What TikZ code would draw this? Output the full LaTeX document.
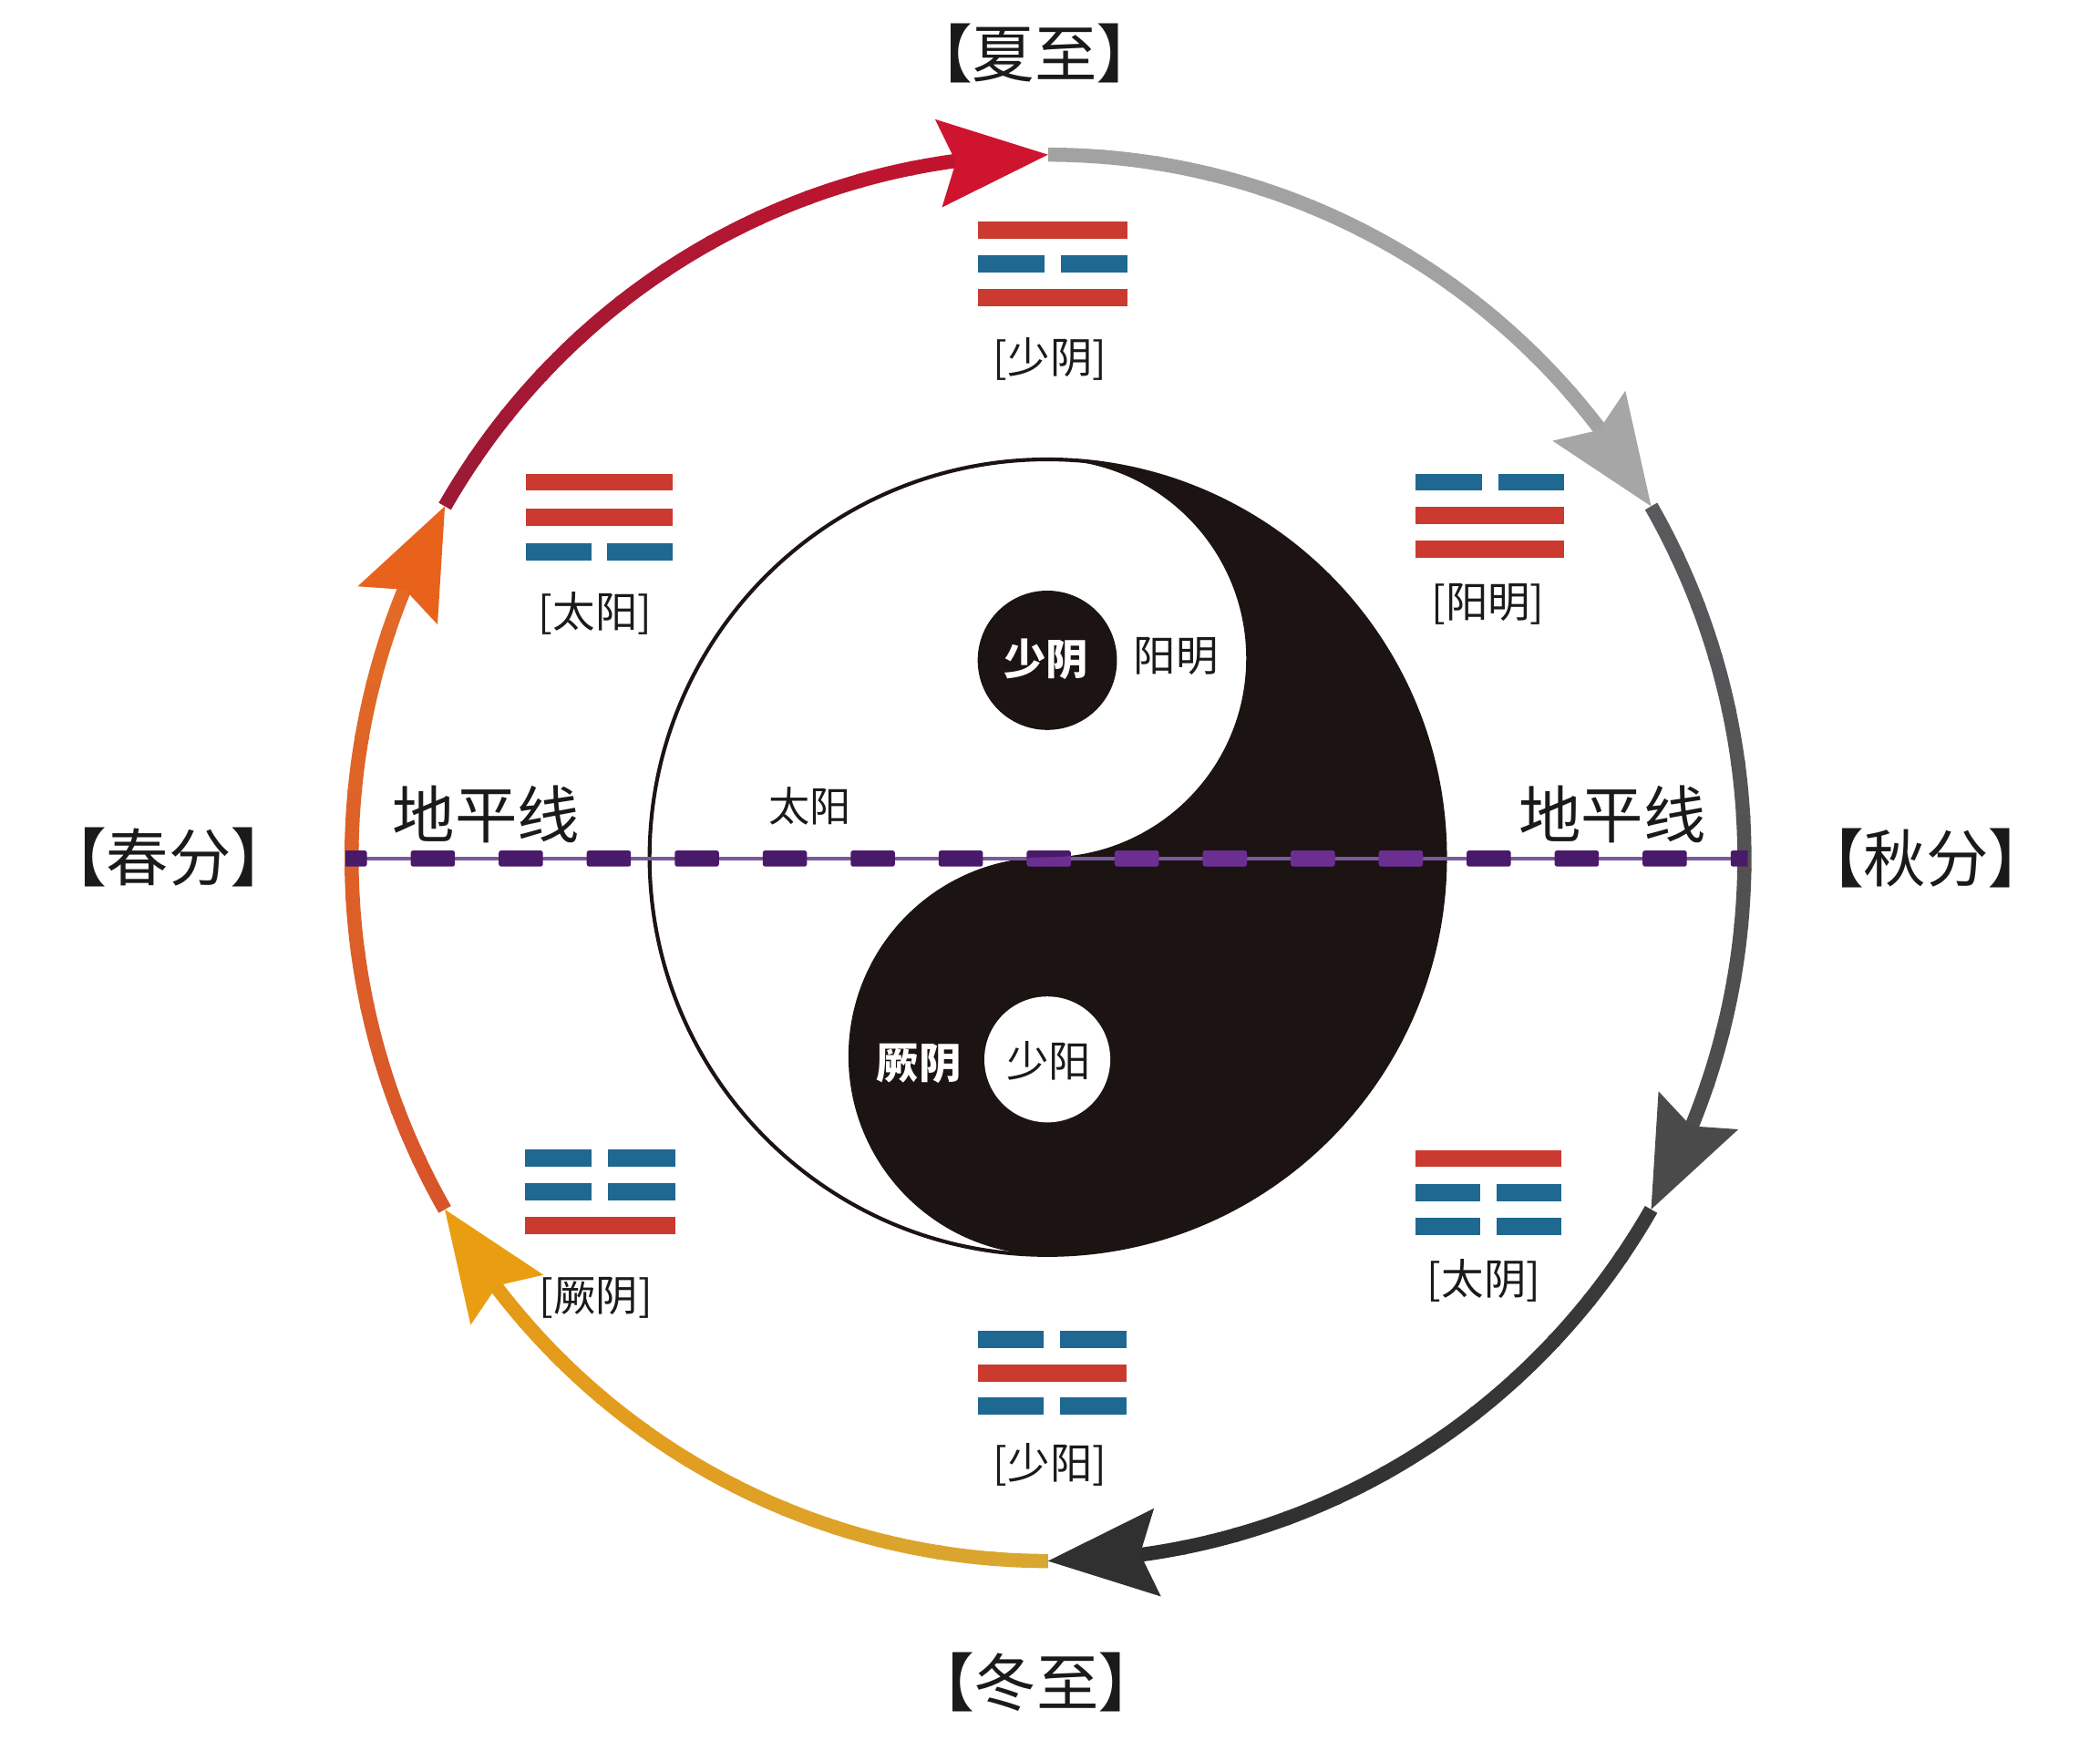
\documentclass[tikz,border=0pt]{standalone}
\usepackage{fontspec}
\newfontfamily\cjk{Noto Sans CJK SC}
\usetikzlibrary{calc}
\definecolor{trired}{HTML}{CB3A2E}
\definecolor{triblue}{HTML}{1E6891}
\definecolor{yyblack}{HTML}{1C1313}
\definecolor{hzdark}{HTML}{4A1A6A}
\definecolor{hzlight}{HTML}{6B2F92}
\definecolor{hzthin}{HTML}{7A5A9C}
\definecolor{redA}{HTML}{9C1A36}
\definecolor{redB}{HTML}{C0142E}
\definecolor{redHead}{HTML}{CF1430}
\definecolor{grayA}{HTML}{A2A2A2}
\definecolor{grayHead}{HTML}{A6A6A6}
\definecolor{dgrayA}{HTML}{5A5A5C}
\definecolor{dgrayB}{HTML}{4C4C4C}
\definecolor{dgrayHead}{HTML}{4A4A4A}
\definecolor{blkA}{HTML}{3A3A3A}
\definecolor{blkB}{HTML}{2E2E2E}
\definecolor{blkHead}{HTML}{303030}
\definecolor{yelA}{HTML}{D9A630}
\definecolor{yelB}{HTML}{E59A18}
\definecolor{yelHead}{HTML}{E89E10}
\definecolor{orgA}{HTML}{D8552A}
\definecolor{orgB}{HTML}{E26A26}
\definecolor{orgHead}{HTML}{E8621C}
\definecolor{txt}{HTML}{1A1A1A}

\tikzset{
  ringline/.style={line width=6pt, line cap=butt},
  season/.style={font=\cjk\fontsize{26.5}{30}\selectfont, inner sep=0pt, text=txt},
  tlabel/.style={font=\cjk\fontsize{18}{22}\selectfont, inner sep=0pt, text=txt},
  innertxt/.style={font=\cjk\fontsize{18}{22}\selectfont, inner sep=0pt, text=txt},
  innerwhite/.style={font=\cjk\bfseries\fontsize{18}{22}\selectfont, inner sep=0pt, text=white},
}

\newcommand\ringseg[3]{%
  \foreach \k in {0,...,11}{%
    \pgfmathsetmacro\ringa{#1-\k*53/12}%
    \pgfmathsetmacro\ringb{#1-(\k+1)*53/12-0.3}%
    \pgfmathsetmacro\ringp{100*\k/11}%
    \draw[ringline, color=#3!\ringp!#2, shift={(C)}] (\ringa:520 and 525) arc[start angle=\ringa, end angle=\ringb, x radius=520, y radius=525];
  }%
}
\newcommand\ringhead[3]{%
  \fill[#3, shift={(#1)}, rotate={#2-85.5}] (0,0) -- (-82,33) -- (-69,0) -- (-82,-33) -- cycle;%
}
\newcommand\yao[4]{%
  \ifnum#4=1
    \fill[trired] ({#1},{-#2+6.4}) rectangle ({#1+#3},{-#2-6.4});
  \else
    \fill[triblue] ({#1},{-#2+6.4}) rectangle ({#1+(#3-12)/2},{-#2-6.4});
    \fill[triblue] ({#1+(#3+12)/2},{-#2+6.4}) rectangle ({#1+#3},{-#2-6.4});
  \fi
}
\newcommand\lbr{{\bfseries 【}}
\newcommand\rbr{{\bfseries 】}}

\begin{document}
\begin{tikzpicture}[x=0.2mm, y=0.2mm]
\useasboundingbox (0,0) rectangle (1568,-1307);
\fill[white] (0,0) rectangle (1568,-1307);

\coordinate (C) at (782.5,-640.5);
\coordinate (Y) at (782,-640);

% ---- yin-yang ----
\fill[yyblack] (782,-343) arc[start angle=90, end angle=-90, radius=297]
   arc[start angle=-90, end angle=-270, radius=148.5]
   arc[start angle=-90, end angle=90, radius=148.5] -- cycle;
\draw[line width=1.6pt, yyblack] (Y) circle[radius=297];
\fill[yyblack] (782,-493) circle[radius=52];
\fill[white] (782,-791) circle[radius=47];

% ---- ring ----
\coordinate (p90) at ($(C)+(90:520 and 525)$);
\coordinate (p30) at ($(C)+(30:520 and 525)$);
\coordinate (pm30) at ($(C)+(-30:520 and 525)$);
\coordinate (pm90) at ($(C)+(-90:520 and 525)$);
\coordinate (pm150) at ($(C)+(-150:520 and 525)$);
\coordinate (p150) at ($(C)+(150:520 and 525)$);

\ringseg{150}{redA}{redB}
\ringseg{90}{grayA}{grayA}
\ringseg{30}{dgrayA}{dgrayB}
\ringseg{-30}{blkA}{blkB}
\ringseg{-90}{yelA}{yelB}
\ringseg{-150}{orgA}{orgB}

\ringhead{p90}{90}{redHead}
\ringhead{p30}{30}{grayHead}
\ringhead{pm30}{-30}{dgrayHead}
\ringhead{pm90}{-90}{blkHead}
\ringhead{pm150}{-150}{yelHead}
\ringhead{p150}{150}{orgHead}

% ---- trigrams ----
\yao{730}{172}{112}{1}\yao{730}{197}{112}{0}\yao{730}{222}{112}{1}
\yao{393}{360}{109}{1}\yao{393}{386}{109}{1}\yao{393}{412}{109}{0}
\yao{1057}{360}{111}{0}\yao{1057}{385}{111}{1}\yao{1057}{410}{111}{1}
\yao{392}{864.5}{112}{0}\yao{392}{890}{112}{0}\yao{392}{915}{112}{1}
\yao{1057}{865}{109}{1}\yao{1057}{890.5}{109}{0}\yao{1057}{915.5}{109}{0}
\yao{730}{1000}{111}{0}\yao{730}{1025.5}{111}{1}\yao{730}{1050}{111}{0}

\node[tlabel] (lbTop) at (784,-268) {[少阴]};
\node[tlabel] (lbUL) at (444.5,-458) {[太阳]};
\node[tlabel] (lbUR) at (1111,-451) {[阳明]};
\node[tlabel] (lbLL) at (445,-969) {[厥阴]};
\node[tlabel] (lbLR) at (1108,-956) {[太阴]};
\node[tlabel] (lbBot) at (784,-1093.5) {[少阳]};

% ---- horizon line ----
\coordinate (hzA) at (258,-641);
\coordinate (hzB) at (1305,-641);
\draw[hzthin, line width=1.3pt] (hzA) -- (hzB);
\begin{scope}
  \clip (258,-600) rectangle (1305,-680);
  \foreach \k in {0,...,16} \fill[hzdark, rounded corners=1pt] ({241+65.7*\k},-635) rectangle ++(33,-12);
\end{scope}
\begin{scope}
  \clip (782,-343) arc[start angle=90, end angle=-90, radius=297]
   arc[start angle=-90, end angle=-270, radius=148.5]
   arc[start angle=-90, end angle=90, radius=148.5] -- cycle;
  \foreach \k in {0,...,16} \fill[hzlight, rounded corners=1pt] ({241+65.7*\k},-635) rectangle ++(33,-12);
\end{scope}

% ---- labels ----
\node[season] (xiazhi) at (772.5,-40) {\lbr 夏至\rbr};
\node[season] (chunfen) at (126,-640) {\lbr 春分\rbr};
\node[season] (qiufen) at (1438,-641) {\lbr 秋分\rbr};
\node[season] (dongzhi) at (774,-1256) {\lbr 冬至\rbr};
\node[season] (hzL) at (363,-608) {地平线};
\node[season] (hzR) at (1204,-608) {地平线};

\node[innerwhite] (shaoyinIn) at (781,-492) {少阴};
\node[innertxt] (yangmingIn) at (878,-490) {阳明};
\node[innertxt, font=\cjk\fontsize{17.5}{21}\selectfont] (taiyangIn) at (605,-602) {太阳};
\node[innerwhite] (jueyinIn) at (686,-794) {厥阴};
\node[innertxt] (shaoyangIn) at (783,-792) {少阳};
\end{tikzpicture}
\end{document}
